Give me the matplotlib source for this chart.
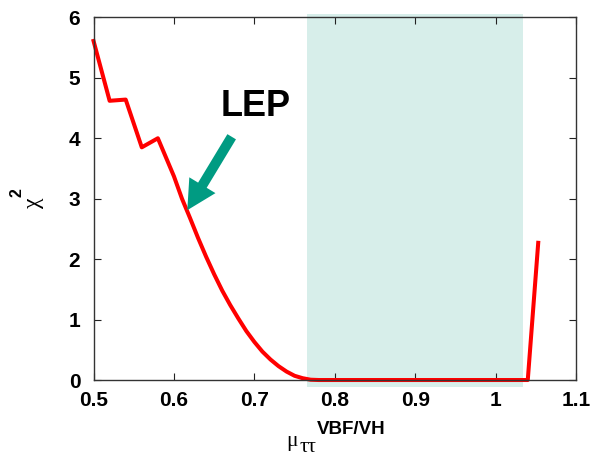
import matplotlib
matplotlib.use("Agg")
import matplotlib.pyplot as plt
from matplotlib.patches import Rectangle
import numpy as np

plt.rcParams['font.family'] = ['Liberation Sans', 'DejaVu Sans']

# chi^2 scan
mu = [0.50, 0.52, 0.54, 0.56, 0.58, 0.60, 0.61, 0.62, 0.63, 0.64, 0.65,
      0.66, 0.67, 0.68, 0.69, 0.70, 0.71, 0.72, 0.73, 0.74, 0.75, 0.76,
      0.77, 0.78, 1.04, 1.053]
chi2 = [5.61, 4.62, 4.64, 3.85, 4.00, 3.37, 3.00, 2.68, 2.35, 2.04, 1.75,
        1.48, 1.24, 1.02, 0.81, 0.63, 0.47, 0.34, 0.23, 0.14, 0.07, 0.03,
        0.005, 0.0, 0.0, 2.27]

# allowed band
band_lo, band_hi = 0.766, 1.034

xticks = [0.5, 0.6, 0.7, 0.8, 0.9, 1.0, 1.1]
xticklabels = ["0.5", "0.6", "0.7", "0.8", "0.9", "1", "1.1"]
yticks = [0, 1, 2, 3, 4, 5, 6]

fig = plt.figure(figsize=(5.92, 4.55), dpi=100)
ax = fig.add_axes([0.158, 0.1648, 0.815, 0.797])

ax.add_patch(Rectangle((band_lo, -0.12), band_hi - band_lo, 6.17,
                       facecolor='#d7eeea', edgecolor='none', clip_on=False, zorder=0))

ax.plot(mu, chi2, color='#ff0000', lw=2.9, clip_on=False, zorder=2)

ax.annotate('', xy=(0.6166, 2.81), xytext=(0.6718, 4.025),
            arrowprops=dict(facecolor='#009b82', edgecolor='none',
                            width=7.2, headwidth=22, headlength=21, shrink=0))
ax.text(0.7013, 4.52, 'LEP', fontsize=26, fontweight='bold', ha='center', va='center')

ax.set_xlim(0.5, 1.1)
ax.set_ylim(0, 6)
ax.set_xticks(xticks)
ax.set_xticklabels(xticklabels)
ax.set_yticks(yticks)
ax.tick_params(direction='in', length=5, width=0.8, top=True, right=True,
               labelsize=15, colors='#222222')
ax.tick_params(axis='x', pad=8)
ax.tick_params(axis='y', pad=9.5)
for lab in ax.get_xticklabels() + ax.get_yticklabels():
    lab.set_fontweight('bold')
    lab.set_color('black')
for sp in ax.spines.values():
    sp.set_linewidth(1.0)
    sp.set_color('#333333')

# axis labels built from pieces, like the original
W, H = 592, 455
fig.text(286.5 / W, 1 - 446 / H, 'μ', fontsize=15.5, family='Liberation Serif',
         ha='left', va='baseline')
fig.text(299.5 / W, 1 - 451.5 / H, 'ττ', fontsize=15, family='Liberation Serif',
         ha='left', va='baseline')
fig.text(316.5 / W, 1 - 434 / H, 'VBF/VH', fontsize=13.5, fontweight='bold',
         ha='left', va='baseline')

fig.text(33 / W, 1 - 203 / H, 'χ', fontsize=17, family='Liberation Serif',
         rotation=90, ha='center', va='center')
fig.text(17.5 / W, 1 - 192.3 / H, '2', fontsize=11.5, fontweight='bold',
         rotation=90, ha='center', va='center')

fig.savefig('out.png', dpi=100)
